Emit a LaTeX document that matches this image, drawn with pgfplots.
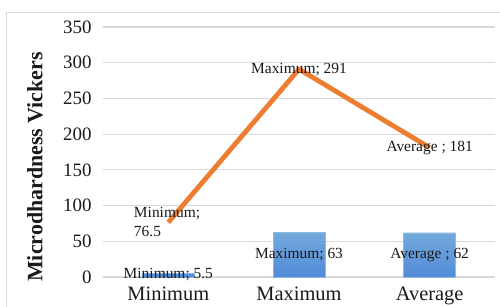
\documentclass[border=0pt]{standalone}
\usepackage{pgfplots}
\pgfplotsset{compat=1.18}
\usepackage{fontspec}
\setmainfont{Liberation Serif}
\definecolor{lineorange}{HTML}{ED7D31}
\definecolor{barblue}{HTML}{5B9BD5}
\definecolor{gridgray}{HTML}{D9D9D9}
\definecolor{txt}{HTML}{1A1A1A}
\begin{document}
\begin{tikzpicture}
\begin{axis}[
  scale only axis,
  width=392bp, height=250bp,
  at={(0,0)}, anchor=south west,
  xmin=-0.5, xmax=2.5,
  ymin=0, ymax=350,
  ytick={0,50,...,350},
  xtick={0,1,2},
  xticklabels={Minimum,Maximum,Average},
  axis line style={draw=none},
  major tick length=0pt,
  ymajorgrids,
  grid style={gridgray, line width=1.2bp},
  /pgf/number format/assume math mode=true,
  yticklabel style={font=\fontsize{19}{19}\selectfont, text=txt, anchor=east, xshift=-8bp},
  xticklabel style={font=\fontsize{20.5}{20}\selectfont, text=txt, anchor=north, yshift=-6bp},
  clip=false,
]
\addplot[ybar, bar width=52bp, top color=barblue!85!white, bottom color=barblue!90!blue, draw=barblue!70!white, line width=0.4bp] coordinates {(0,5.5) (1,63) (2,62)};
\addplot[lineorange, line width=4.8bp, line join=round] coordinates {(0,76.5) (1,291) (2,181)};
\begin{scope}[every node/.style={font=\fontsize{15.5}{19}\selectfont, text=txt, inner sep=0pt}]
\node at (axis cs:0,2.75) {Minimum; 5.5};
\node at (axis cs:1,31.5) {Maximum; 63};
\node at (axis cs:2,31) {Average ; 62};
\node[align=left, anchor=center] at (axis cs:-0.01,76.5) {Minimum;\\76.5};
\node at (axis cs:1,291) {Maximum; 291};
\node at (axis cs:2,181) {Average ; 181};
\end{scope}
\end{axis}
\draw[gridgray, line width=1bp] (-96bp,-40bp) -- (-96bp,264bp) -- (410bp,264bp);
\node[rotate=90, font=\bfseries\fontsize{22}{22}\selectfont, text=txt] at (-68bp,110bp) {Microdhardness Vickers};
\pgfresetboundingbox
\useasboundingbox (-103bp,-30bp) rectangle (397bp,277bp);
\end{tikzpicture}
\end{document}
